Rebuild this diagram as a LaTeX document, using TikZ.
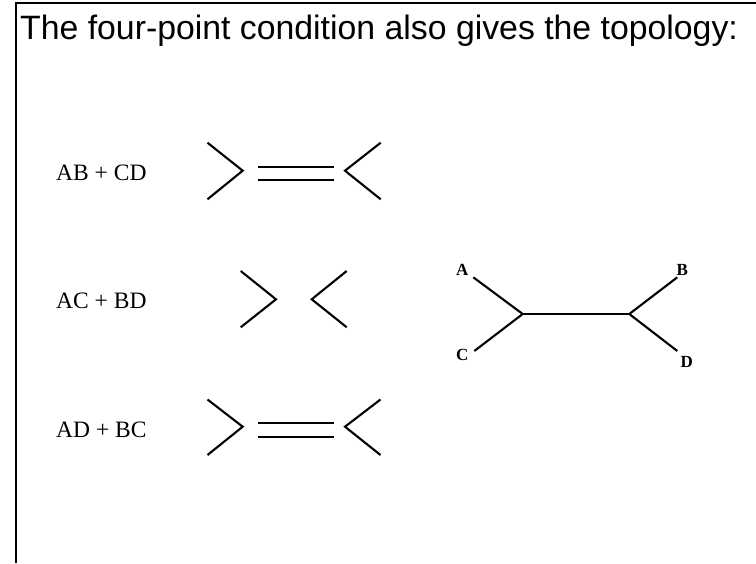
\documentclass[tikz,border=0pt]{standalone}
\usepackage{fontspec}
\setmainfont{Liberation Serif}
\newfontfamily\titlefont{Liberation Sans}
\begin{document}
\begin{tikzpicture}[x=1pt,y=-1pt,
  stroke/.style={line width=2.1pt,line cap=butt,line join=miter},
  frameline/.style={line width=2.2pt},
  pairlabel/.style={anchor=base west,inner sep=0pt,font=\fontsize{23.5}{28}\selectfont},
  leaflabel/.style={inner sep=0pt,font=\fontsize{17}{20}\selectfont\bfseries},
  titletext/.style={anchor=base west,inner sep=0pt,font=\titlefont\fontsize{33.8}{40}\selectfont}]
  \useasboundingbox (0,0) rectangle (756,563);

  % frame
  \draw[frameline] (16,563) -- (16,3) -- (757,3);

  % heading
  \node[titletext] (title) at (20,39) {The four-point condition also gives the topology:};

  % pair labels
  \node[pairlabel] (ab) at (56,180) {AB + CD};
  \node[pairlabel] (ac) at (56,308) {AC + BD};
  \node[pairlabel] (ad) at (56,437) {AD + BC};

  % row AB + CD
  \draw[stroke] (207.5,142.7) -- (242.7,170.7) -- (207.5,199.3);
  \draw[stroke] (380.7,142.7) -- (345,170.7) -- (380.7,199.3);
  \draw[stroke] (257.7,167.3) -- (334.3,167.3);
  \draw[stroke] (257.7,180) -- (334.3,180);

  % row AC + BD
  \draw[stroke] (240.7,271) -- (276,299.3) -- (240.7,327.3);
  \draw[stroke] (346.7,271) -- (311.7,299.3) -- (346.7,327.3);

  % row AD + BC
  \draw[stroke] (207.5,399.5) -- (242.7,426.7) -- (207.5,455);
  \draw[stroke] (380.5,399.5) -- (345,426.7) -- (380.5,455);
  \draw[stroke] (257.7,423.3) -- (334.3,423.3);
  \draw[stroke] (257.7,436.7) -- (334.3,436.7);

  % unrooted tree
  \coordinate (left) at (522.7,314);
  \coordinate (right) at (629.3,314);
  \node[leaflabel] (A) at (462.3,269.5) {A};
  \node[leaflabel] (C) at (462.3,355) {C};
  \node[leaflabel] (B) at (682.3,269.5) {B};
  \node[leaflabel] (D) at (686.7,361.5) {D};
  \coordinate (a) at (473.3,277.3);
  \coordinate (c) at (474.3,351);
  \coordinate (b) at (677.3,277.3);
  \coordinate (d) at (677.3,351);
  \draw[stroke] (a) -- (left) -- (c);
  \draw[stroke] (left) -- (right);
  \draw[stroke] (b) -- (right) -- (d);
\end{tikzpicture}
\end{document}
